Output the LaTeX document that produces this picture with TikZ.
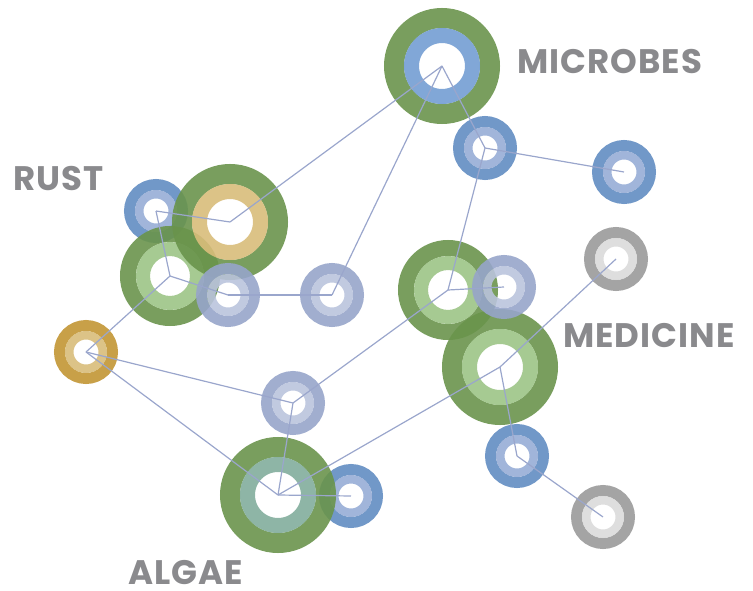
\documentclass[tikz,border=0pt]{standalone}
\usepackage{fontspec}
\newfontfamily\labelfont{Poppins}[LetterSpace=3]
\usetikzlibrary{arrows}

\definecolor{dkgreen}{HTML}{6A944C}
\definecolor{ltgreen}{HTML}{9CC486}
\definecolor{teal}{HTML}{82AD9C}
\definecolor{dkgold}{HTML}{C29634}
\definecolor{ltgold}{HTML}{D8BC7A}
\definecolor{dkblue}{HTML}{628DC2}
\definecolor{ltblue}{HTML}{97ADD6}
\definecolor{mbblue}{HTML}{739DD3}
\definecolor{dklav}{HTML}{97A5CA}
\definecolor{ltlav}{HTML}{BAC4DD}
\definecolor{dkgray}{HTML}{9A9A9A}
\definecolor{ltgray}{HTML}{DADADA}
\definecolor{linkc}{HTML}{9AA6CC}
\definecolor{tagc}{HTML}{8A8A8D}

\begin{document}
\begin{tikzpicture}[x=1pt,y=-1pt,
    ring/.style={circle, inner sep=0pt, outer sep=0pt, draw opacity=0.9},
    bigout/.style={ring, minimum size=96pt, line width=20pt},
    bigin/.style={ring, minimum size=61pt, line width=15pt},
    midout/.style={ring, minimum size=84pt, line width=16pt},
    midin/.style={ring, minimum size=54pt, line width=14pt},
    smout/.style={ring, minimum size=53pt, line width=11pt},
    smin/.style={ring, minimum size=33.5pt, line width=8.5pt},
    link/.style={draw=linkc, line width=1.2pt},
    tag/.style={anchor=base west, inner sep=0pt, text=tagc,
                font=\labelfont\bfseries\fontsize{34}{34}\selectfont}]

    \useasboundingbox (0,0) rectangle (753,591);

    % small bubbles
    \node[smout, draw = dkblue] (mb1) at (485,148) {};
    \node[smin, draw = ltblue] at (mb1.center) {};

    \node[smout, draw = dkblue] (mb2) at (624,172) {};
    \node[smin, draw = ltblue] at (mb2.center) {};

    \node[smout, draw = dkblue] (rb) at (156,211) {};
    \node[smin, draw = ltblue] at (rb.center) {};

    \node[smout, draw = dklav] (rl2) at (332,295) {};
    \node[smin, draw = ltlav] at (rl2.center) {};

    \node[smout, draw = dkgold] (gold) at (86,352) {};
    \node[smin, draw = ltgold] at (gold.center) {};

    \node[smout, draw = dkgray] (gr1) at (616,259) {};
    \node[smin, draw = ltgray] at (gr1.center) {};

    \node[smout, draw = dkblue] (mbl) at (517,456) {};
    \node[smin, draw = ltblue] at (mbl.center) {};

    \node[smout, draw = dkgray] (gr2) at (603,517) {};
    \node[smin, draw = ltgray] at (gr2.center) {};

    \node[smout, draw = dklav] (al) at (293,403) {};
    \node[smin, draw = ltlav] at (al.center) {};

    \node[smout, draw = dkblue] (ab) at (351,496) {};
    \node[smin, draw = ltblue] at (ab.center) {};

    % green bubbles
    \node[midout, draw = dkgreen] (rg) at (170,276) {};
    \node[midin, draw = ltgreen] at (rg.center) {};

    \node[midout, draw = dkgreen] (mg) at (448,290) {};
    \node[midin, draw = ltgreen] at (mg.center) {};

    \node[bigout, draw = dkgreen] (microbes) at (442,66) {};
    \node[bigin, draw = mbblue] at (microbes.center) {};

    \node[bigout, draw = dkgreen] (rust) at (230,222) {};
    \node[bigin, draw = ltgold] at (rust.center) {};

    \node[bigout, draw = dkgreen] (med) at (500,367) {};
    \node[bigin, draw = ltgreen] at (med.center) {};

    \node[bigout, draw = dkgreen] (algae) at (278,495) {};
    \node[bigin, draw = teal] at (algae.center) {};

    % lavender on top of the greens
    \node[smout, draw = dklav] (rl1) at (228,295) {};
    \node[smin, draw = ltlav] at (rl1.center) {};

    \node[smout, draw = dklav] (ml) at (504,287) {};
    \node[smin, draw = ltlav] at (ml.center) {};

    \path[link]
    %microbes links
    (rust.center) edge (microbes.center)
    (rl2.center) edge (microbes.center)
    (microbes.center) edge (mb1.center)
    (mb1.center) edge (mb2.center)
    (mb1.center) edge (mg.center)
    %rust links
    (rb.center) edge (rust.center)
    (rb.center) edge (rg.center)
    (rg.center) edge (rl1.center)
    (rl1.center) edge (rl2.center)
    (rg.center) edge (gold.center)
    %algae links
    (gold.center) edge (al.center)
    (gold.center) edge (algae.center)
    (al.center) edge (algae.center)
    (al.center) edge (mg.center)
    (algae.center) edge (ab.center)
    %medicine links
    (mg.center) edge (ml.center)
    (med.center) edge (gr1.center)
    (med.center) edge (algae.center)
    (med.center) edge (mbl.center)
    (mbl.center) edge (gr2.center);

    \node[tag] (microbestag) at (517,74) {MICROBES};
    \node[tag] (rusttag) at (13,191) {RUST};
    \node[tag] (medtag) at (563,347) {MEDICINE};
    \node[tag] (algaetag) at (128,584) {ALGAE};

\end{tikzpicture}
\end{document}
